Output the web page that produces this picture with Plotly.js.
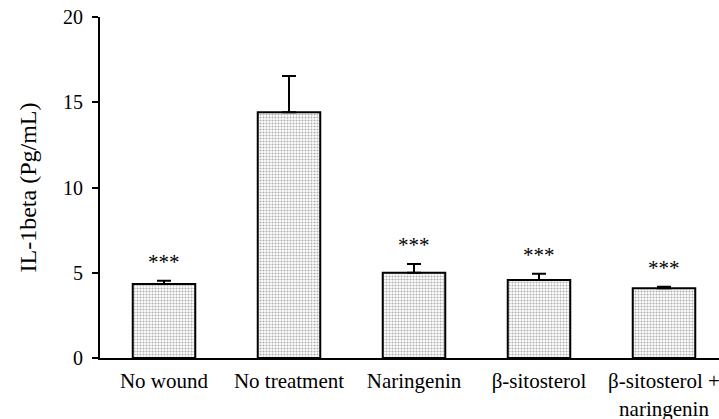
<!DOCTYPE html>
<html>
<head>
<meta charset="utf-8">
<script src="https://cdn.plot.ly/plotly-3.0.1.min.js"></script>
<style>html,body{margin:0;padding:0;background:#fff;}</style>
</head>
<body>
<div id="chart" style="width:719px;height:419px;"></div>
<script>
var categories = ["No wound", "No treatment", "Naringenin", "β-sitosterol", "β-sitosterol +<br>naringenin"];
var values = [4.34, 14.41, 5.0, 4.57, 4.09];
var errors = [0.19, 2.13, 0.51, 0.37, 0.09];
var significance = ["***", "", "***", "***", "***"];
var yTicks = [0, 5, 10, 15, 20];

var idx = categories.map(function(_, i){ return i; });
var font = "Liberation Serif, Times New Roman, serif";

var trace = {
  type: "bar",
  x: idx,
  y: values,
  width: 0.5,
  marker: {
    color: "#ffffff",
    line: {color: "#000", width: 2},
    pattern: {shape: ".", fgcolor: "#b0b0b0", bgcolor: "#ffffff", size: 3, solidity: 0.4}
  },
  error_y: {type: "data", array: errors, symmetric: false, arrayminus: errors.map(function(){return 0;}), color: "#000", thickness: 2, width: 7},
  hoverinfo: "none"
};

var annotations = [];
idx.forEach(function(i){
  if (significance[i]) {
    annotations.push({x: i, y: values[i] + errors[i], xref: "x", yref: "y", text: significance[i],
      showarrow: false, yanchor: "bottom", yshift: 5, font: {family: font, size: 21, color: "#000"}});
  }
});

var layout = {
  width: 719, height: 419,
  margin: {l: 100, r: 0, t: 17, b: 61},
  paper_bgcolor: "#fff", plot_bgcolor: "#fff",
  showlegend: false,
  font: {family: font, size: 21, color: "#000"},
  xaxis: {
    range: [-0.512, 4.44],
    tickmode: "array", tickvals: idx, ticktext: categories,
    showline: true, linecolor: "#000", linewidth: 2,
    ticks: "", showgrid: false, zeroline: false,
    ticklabelstandoff: 3,
    ticklabeloverflow: "allow",
    tickfont: {family: font, size: 21, color: "#000"},
    fixedrange: true
  },
  yaxis: {
    range: [0, 20],
    tickmode: "array", tickvals: yTicks, ticktext: yTicks.map(String),
    showline: true, linecolor: "#000", linewidth: 2,
    ticks: "outside", ticklen: 6, tickwidth: 2, tickcolor: "#000",
    ticklabelstandoff: 5,
    showgrid: false, zeroline: false,
    tickfont: {family: font, size: 20, color: "#000"},
    title: {text: "IL-1beta (Pg/mL)", font: {family: font, size: 24, color: "#000"}, standoff: 20},
    fixedrange: true
  },
  annotations: annotations
};

Plotly.newPlot("chart", [trace], layout, {displayModeBar: false, staticPlot: true});
</script>
</body>
</html>
